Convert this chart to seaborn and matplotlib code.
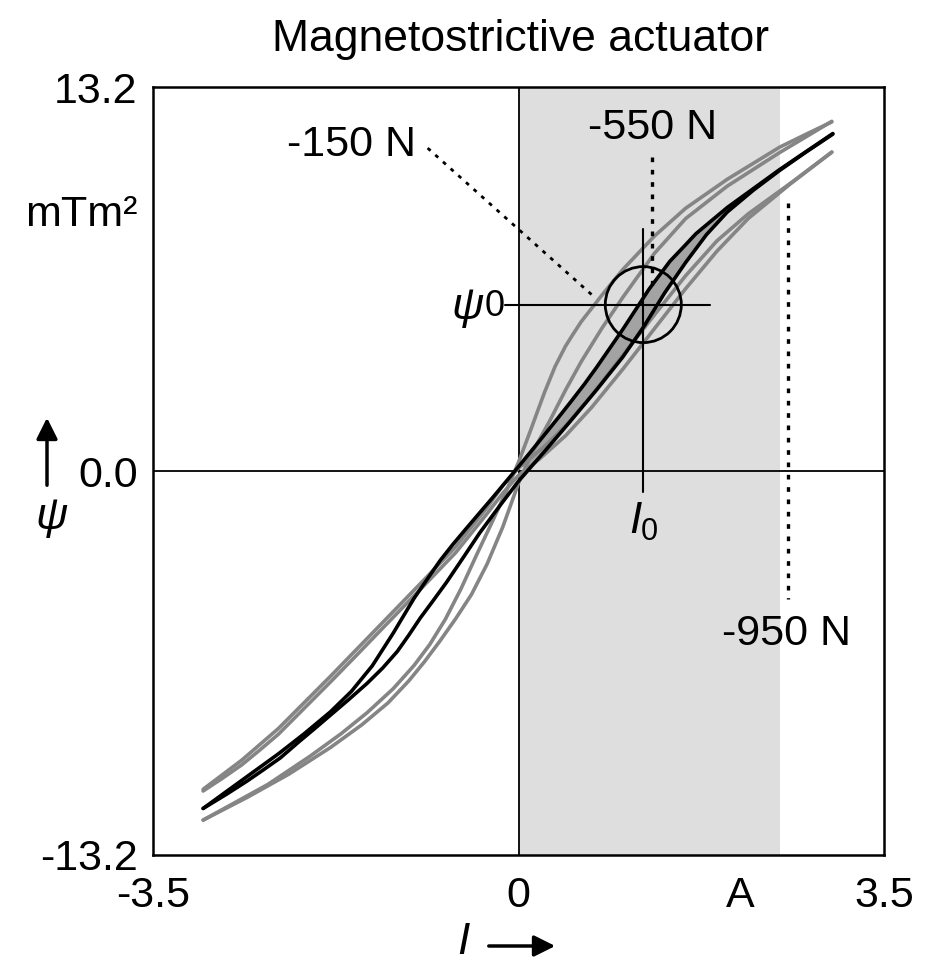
import numpy as np
import matplotlib
matplotlib.use("Agg")
import matplotlib.pyplot as plt
import seaborn as sns
from matplotlib.patches import Ellipse

# ---------------- data ----------------
# -550 N loop (black): descending branch (I from +3 to -3) and ascending branch
n550_desc_x = [3.01, 2.75, 2.5, 2.25, 2.0, 1.85, 1.7, 1.58, 1.45, 1.35, 1.25, 1.13, 1.0, 0.88, 0.75, 0.63, 0.5, 0.38, 0.25, 0.13, 0.0,
               -0.13, -0.25, -0.38, -0.5, -0.63, -0.75, -0.88, -1.0, -1.1, -1.2, -1.3, -1.4, -1.5, -1.6, -1.7, -1.8, -1.92,
               -2.05, -2.18, -2.3, -2.45, -2.6, -2.8, -3.02]
n550_desc_y = [11.6, 10.97, 10.36, 9.71, 9.06, 8.61, 8.16, 7.7, 7.21, 6.73, 6.25, 5.59, 4.875, 4.25, 3.575, 2.98, 2.375, 1.83, 1.25, 0.72, 0.15,
               -0.41, -0.925, -1.47, -1.975, -2.53, -3.075, -3.75, -4.375, -4.975, -5.575, -6.135, -6.695, -7.135, -7.575, -7.925, -8.275, -8.635,
               -9.025, -9.39, -9.725, -10.115, -10.505, -11.025, -11.6]
n550_asc_x = [-3.02, -2.8, -2.6, -2.45, -2.28, -2.1, -1.95, -1.81, -1.63, -1.45, -1.3, -1.16, -1.05, -0.94, -0.82, -0.69, -0.53, -0.37, -0.18, 0.0,
              0.12, 0.25, 0.38, 0.5, 0.63, 0.75, 0.88, 1.0, 1.1, 1.2, 1.3, 1.4, 1.5, 1.6, 1.7, 1.8, 1.9, 2.0, 2.25, 2.5, 2.75, 3.01]
n550_asc_y = [-11.6, -11.12, -10.66, -10.29, -9.86, -9.3, -8.85, -8.42, -7.87, -7.3, -6.77, -6.2, -5.64, -5.05, -4.47, -3.83, -2.98, -2.12, -1.2, -0.35,
              0.142, 0.675, 1.221, 1.725, 2.284, 2.8, 3.385, 3.925, 4.445, 4.965, 5.545, 6.125, 6.645, 7.165, 7.645, 8.125, 8.515, 8.905, 9.655, 10.33, 10.955, 11.58]

# -150 N loop (grey)
n150_desc_x = [3.0, 2.75, 2.5, 2.25, 2.0, 1.8, 1.6, 1.45, 1.3, 1.15, 1.0, 0.9, 0.8, 0.7, 0.6, 0.52, 0.45, 0.4, 0.35, 0.3, 0.25, 0.18, 0.12, 0.06, 0.0,
               -0.06, -0.12, -0.18, -0.25, -0.32, -0.4, -0.47, -0.55, -0.62, -0.7, -0.77, -0.85, -0.92, -1.0, -1.1, -1.2, -1.32, -1.45,
               -1.57, -1.7, -1.85, -2.0, -2.2, -2.4, -2.7, -3.02]
n150_desc_y = [12.0, 11.57, 11.13, 10.58, 10.03, 9.53, 9.03, 8.55, 8.07, 7.5, 6.93, 6.49, 6.05, 5.59, 5.13, 4.69, 4.29, 3.94, 3.59, 3.15, 2.71, 2.03, 1.44, 0.87, 0.3,
               -0.21, -0.72, -1.19, -1.734, -2.266, -2.874, -3.42, -4.044, -4.534, -5.094, -5.5, -5.964, -6.3, -6.684, -7.084, -7.484, -7.88, -8.309,
               -8.657, -9.034, -9.424, -9.814, -10.294, -10.774, -11.368, -12.0]
n150_asc_x = [-3.02, -2.8, -2.6, -2.4, -2.2, -2.0, -1.8, -1.65, -1.5, -1.37, -1.25, -1.15, -1.05, -0.97, -0.9, -0.82, -0.75, -0.67, -0.6,
              -0.52, -0.45, -0.38, -0.3, -0.22, -0.15, -0.07, 0.0, 0.06, 0.12, 0.2, 0.3, 0.38, 0.45, 0.52, 0.6, 0.7, 0.8, 0.9, 1.0, 1.15,
              1.3, 1.45, 1.6, 1.8, 2.0, 2.25, 2.5, 2.75, 3.0]
n150_asc_y = [-12.0, -11.593, -11.223, -10.823, -10.423, -9.963, -9.503, -9.113, -8.723, -8.333, -7.973, -7.593, -7.213, -6.861, -6.553, -6.169, -5.833, -5.425, -5.068,
              -4.628, -4.243, -3.753, -3.193, -2.513, -1.918, -1.118, -0.418, 0.08, 0.56, 1.08, 1.73, 2.29, 2.78, 3.235, 3.755, 4.335, 4.915, 5.445, 5.975, 6.725,
              7.475, 8.075, 8.675, 9.235, 9.795, 10.37, 10.945, 11.48, 12.02]

# -950 N loop (grey)
n950_desc_x = [3.0, 2.8, 2.6, 2.4, 2.2, 2.05, 1.9, 1.75, 1.6, 1.45, 1.3, 1.15, 1.0, 0.85, 0.7, 0.58, 0.45, 0.35, 0.25, 0.12, 0.0,
               -0.15, -0.3, -0.45, -0.6, -0.75, -0.9, -1.1, -1.3, -1.55, -1.8, -2.05, -2.3, -2.48, -2.65, -2.83, -3.02]
n950_desc_y = [10.96, 10.42, 9.88, 9.36, 8.84, 8.375, 7.91, 7.31, 6.71, 6.035, 5.36, 4.67, 3.98, 3.29, 2.6, 2.096, 1.55, 1.2, 0.85, 0.46, 0.1,
               -0.5, -1.25, -1.925, -2.6, -3.163, -3.725, -4.465, -5.205, -6.13, -7.055, -7.955, -8.855, -9.413, -9.94, -10.426, -10.94]
n950_asc_x = [-3.02, -2.83, -2.65, -2.48, -2.3, -2.05, -1.8, -1.55, -1.3, -1.1, -0.9, -0.75, -0.6, -0.45, -0.3, -0.15, 0.0,
              0.1, 0.2, 0.33, 0.45, 0.58, 0.7, 0.85, 1.0, 1.15, 1.3, 1.45, 1.6, 1.75, 1.9, 2.05, 2.2, 2.4, 2.6, 2.8, 3.0]
n950_asc_y = [-11.0, -10.55, -10.1, -9.6, -9.05, -8.15, -7.25, -6.33, -5.4, -4.66, -3.92, -3.36, -2.8, -2.13, -1.46, -0.76, -0.15,
              0.13, 0.41, 0.826, 1.21, 1.717, 2.185, 2.845, 3.505, 4.195, 4.885, 5.575, 6.265, 6.91, 7.555, 8.118, 8.68, 9.27, 9.86, 10.41, 10.96]

# operating point, shading and tick labels
I0 = 1.195
PSI0 = 5.72
shade_end = 2.5
x_ticks = [-3.5, 0.0, 2.12, 3.5]
x_ticklabels = ["-3.5", "0", "A", "3.5"]
y_ticks = [-13.2, 0.0, 13.2]
y_ticklabels = ["-13.2", "0.0", "13.2"]

# ---------------- figure ----------------
sns.set_theme(style="white")
plt.rcParams['font.family'] = ['Liberation Sans', 'DejaVu Sans']
plt.rcParams['text.color'] = 'black'
plt.rcParams['xtick.color'] = 'black'
plt.rcParams['ytick.color'] = 'black'
plt.rcParams['axes.labelcolor'] = 'black'

W, H = 926, 961
fig = plt.figure(figsize=(W / 100, H / 100), dpi=100)
ax = fig.add_axes([153 / W, 1 - 855 / H, (884 - 153) / W, (855 - 87) / H])
ax.set_xlim(-3.5, 3.5)
ax.set_ylim(-13.2, 13.2)

ax.axvspan(0, shade_end, color="#dedede", lw=0, zorder=0)
ax.axhline(0, color="black", lw=1.3, zorder=1)
ax.axvline(0, color="black", lw=1.3, zorder=1)

grey = "#858585"
lw_curve = 2.6

# fill between the two -550 N branches in the first quadrant
fx = [x for x, y in zip(n550_desc_x, n550_desc_y) if x >= 0 and y >= 0] + \
     [x for x, y in zip(n550_asc_x, n550_asc_y) if x >= 0 and y >= 0]
fy = [y for x, y in zip(n550_desc_x, n550_desc_y) if x >= 0 and y >= 0] + \
     [y for x, y in zip(n550_asc_x, n550_asc_y) if x >= 0 and y >= 0]
ax.fill(fx, fy, color="#a3a3a3", lw=0, zorder=2)

for xs, ys in [(n150_desc_x, n150_desc_y), (n150_asc_x, n150_asc_y),
               (n950_desc_x, n950_desc_y), (n950_asc_x, n950_asc_y)]:
    sns.lineplot(x=xs, y=ys, sort=False, estimator=None, color=grey,
                 linewidth=lw_curve, ax=ax, legend=False, zorder=3)
for xs, ys in [(n550_desc_x, n550_desc_y), (n550_asc_x, n550_asc_y)]:
    sns.lineplot(x=xs, y=ys, sort=False, estimator=None, color="black",
                 linewidth=lw_curve, ax=ax, legend=False, zorder=4)

# crosshair + circle at the operating point
ax.plot([-0.13, 1.83], [PSI0, PSI0], color="black", lw=1.5, zorder=5)
ax.plot([I0, I0], [8.33, -0.72], color="black", lw=1.5, zorder=5)
ax.add_patch(Ellipse((I0, PSI0), width=2 * 38 / 104.4, height=2 * 38 / 29.1,
                     fill=False, ec="black", lw=2.0, zorder=6))

# dotted leader lines
dot = (0, (1.4, 2.3))
ax.plot([-0.87, 0.72], [11.1, 6.0], color="black", lw=2.0, ls=dot, zorder=5)
ax.plot([1.28, 1.28], [10.8, 6.25], color="black", lw=2.4, ls=dot, zorder=5)
ax.plot([2.58, 2.58], [9.2, -4.4], color="black", lw=2.4, ls=dot, zorder=5)

fs = 31
ax.text(-1.60, 11.2, "-150 N", fontsize=fs, ha="center", va="center")
ax.text(1.285, 11.8, "-550 N", fontsize=fs, ha="center", va="center")
ax.text(2.57, -5.6, "-950 N", fontsize=fs, ha="center", va="center")

# psi0 and I0 labels
ax.text(-0.49, PSI0 - 0.1, "\u03c8", fontsize=32, style="italic", ha="center", va="center")
ax.text(-0.23, PSI0 - 0.05, "0", fontsize=26, ha="center", va="center")
ax.text(1.12, -1.72, "I", fontsize=32, style="italic", ha="center", va="center")
ax.text(1.25, -2.1, "0", fontsize=22, ha="center", va="center")

# ticks
ax.set_xticks(x_ticks)
ax.set_xticklabels(x_ticklabels)
ax.set_yticks(y_ticks)
ax.set_yticklabels(y_ticklabels)
ax.tick_params(axis="both", length=0, labelsize=fs, colors="black")
ax.tick_params(axis="x", pad=15)
ax.tick_params(axis="y", pad=11)
for sp in ax.spines.values():
    sp.set_visible(True)
    sp.set_color("black")
    sp.set_linewidth(1.8)
ax.grid(False)

# title and axis labels
fig.text(520 / W, 1 - 40 / H, "Magnetostrictive actuator", fontsize=32, ha="center", va="center", color="black")
fig.text(138 / W, 1 - 215 / H, "mTm\u00b2", fontsize=fs, ha="right", va="center")

fig.text(52 / W, 1 - 518 / H, "\u03c8", fontsize=32, style="italic", ha="center", va="center")
ax.annotate("", xy=(47 / W, 1 - 415 / H), xytext=(47 / W, 1 - 488 / H),
            xycoords="figure fraction", textcoords="figure fraction",
            arrowprops=dict(arrowstyle="-|>", lw=2.5, color="black", mutation_scale=32))

fig.text(463 / W, 1 - 942 / H, "I", fontsize=32, style="italic", ha="center", va="center")
ax.annotate("", xy=(558 / W, 1 - 946 / H), xytext=(486 / W, 1 - 946 / H),
            xycoords="figure fraction", textcoords="figure fraction",
            arrowprops=dict(arrowstyle="-|>", lw=2.5, color="black", mutation_scale=32))

fig.savefig("out.png", dpi=100)
